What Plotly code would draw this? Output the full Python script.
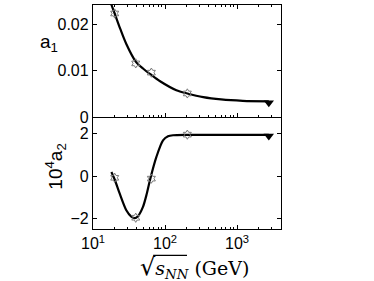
import plotly.graph_objects as go

# ---- data ----
sqrt_s_pts = [20.0, 39.2, 64.6, 204.0]          # star markers (GeV)
a1_pts = [0.0224, 0.0116, 0.0096, 0.0051]
a2_pts = [-0.07, -1.95, -0.11, 1.96]              # in units of 1e-4

lhc_x = [2760.0]                                  # triangle marker
lhc_a1 = [0.0031]
lhc_a2 = [1.90]

# fitted curves
curve1_x = [18.0, 20.0, 24.0, 29.0, 39.2, 49.4, 64.6, 84.3, 143.6, 204.0, 339.0, 600.0, 1200.0, 2760.0]
curve1_y = [0.0243, 0.0224, 0.0190, 0.0158, 0.0120, 0.0105, 0.0091, 0.0078, 0.0058, 0.0051, 0.0043, 0.0038, 0.0035, 0.0034]

curve2_x = [18.0, 20.0, 23.5, 29.0, 34.0, 37.9, 42.0, 49.4, 56.0, 62.5, 75.9, 93.8, 110.0, 129.0, 204.0, 600.0, 2760.0]
curve2_y = [0.20, -0.15, -0.82, -1.60, -1.90, -1.97, -1.88, -1.44, -0.80, -0.11, 0.91, 1.69, 1.88, 1.93, 1.95, 1.95, 1.95]

x_tickvals = [10, 100, 1000]
x_ticktext = ["10<sup>1</sup>", "10<sup>2</sup>", "10<sup>3</sup>"]
y1_tickvals = [0, 0.01, 0.02]
y1_ticktext = ["0", "0.01", "0.02"]
y2_tickvals = [-2, 0, 2]
y2_ticktext = ["\u22122", "0", "2"]

LINE = "black"
STAR = "#7a7a7a"
TICKFONT = dict(family="Liberation Sans, Arial, sans-serif", size=16, color="black")

fig = go.Figure()

# top panel
fig.add_trace(go.Scatter(x=curve1_x, y=curve1_y, mode="lines", line=dict(color=LINE, width=2.2, shape="spline", smoothing=0.8),
                         xaxis="x", yaxis="y", showlegend=False, hoverinfo="skip"))
fig.add_trace(go.Scatter(x=sqrt_s_pts, y=a1_pts, mode="markers",
                         marker=dict(symbol="hexagram-open", size=7, color=STAR, line=dict(width=1, color=STAR)),
                         xaxis="x", yaxis="y", showlegend=False, cliponaxis=False))
fig.add_trace(go.Scatter(x=lhc_x, y=lhc_a1, mode="markers",
                         marker=dict(symbol="triangle-down", size=9, color="black"),
                         xaxis="x", yaxis="y", showlegend=False))

# bottom panel
fig.add_trace(go.Scatter(x=curve2_x, y=curve2_y, mode="lines", line=dict(color=LINE, width=2.2, shape="spline", smoothing=0.8),
                         xaxis="x2", yaxis="y2", showlegend=False, hoverinfo="skip"))
fig.add_trace(go.Scatter(x=sqrt_s_pts, y=a2_pts, mode="markers",
                         marker=dict(symbol="hexagram-open", size=7, color=STAR, line=dict(width=1, color=STAR)),
                         xaxis="x2", yaxis="y2", showlegend=False))
fig.add_trace(go.Scatter(x=lhc_x, y=lhc_a2, mode="markers",
                         marker=dict(symbol="triangle-down", size=9, color="black"),
                         xaxis="x2", yaxis="y2", showlegend=False))

xrange = [1.0, 3.61]
common_x = dict(type="log", range=xrange, showline=True, linecolor="black", linewidth=1.3,
                ticks="inside", ticklen=4, tickcolor="black", tickvals=x_tickvals, showgrid=False, zeroline=False,
                minor=dict(ticks="inside", ticklen=2, tickcolor="black", dtick="D1", showgrid=False))

fig.update_layout(
    width=374, height=281,
    margin=dict(l=93, r=93, t=5, b=52),
    paper_bgcolor="white", plot_bgcolor="white",
    xaxis=dict(**common_x, domain=[0, 1], anchor="y", mirror="allticks", showticklabels=False, ticktext=x_ticktext),
    xaxis2=dict(**common_x, domain=[0, 1], anchor="y2", mirror=False, matches="x", ticktext=x_ticktext,
                tickfont=TICKFONT),
    yaxis=dict(domain=[0.5, 1], range=[0, 0.02424], showline=True, linecolor="black", linewidth=1.3,
               mirror="allticks", ticks="inside", ticklen=4, tickcolor="black", tickvals=y1_tickvals,
               ticktext=y1_ticktext, tickfont=TICKFONT, showgrid=False, zeroline=False, anchor="x"),
    yaxis2=dict(domain=[0, 0.5], range=[-2.48, 2.79], showline=True, linecolor="black", linewidth=1.3,
                mirror="allticks", ticks="inside", ticklen=4, tickcolor="black", tickvals=y2_tickvals,
                ticktext=y2_ticktext, tickfont=TICKFONT, showgrid=False, zeroline=False, anchor="x2"),
    annotations=[
        dict(text="a<sub>1</sub>", xref="paper", yref="paper", x=-0.235, y=0.83, xanchor="center", yanchor="middle",
             showarrow=False, font=dict(family="Liberation Sans, Arial, sans-serif", size=19, color="black")),
        dict(text="10<sup>4</sup>a<sub>2</sub>", xref="paper", yref="paper", x=-0.2, y=0.28, xanchor="center",
             yanchor="middle", textangle=-90, showarrow=False,
             font=dict(family="Liberation Sans, Arial, sans-serif", size=19, color="black")),
        dict(text="<span style='font-size:24px'>\u221a</span><i>s</i><sub><i>NN</i></sub> (GeV)",
             xref="paper", yref="paper", x=0.54, y=-0.174, xanchor="center", yanchor="middle", showarrow=False,
             font=dict(family="DejaVu Serif, serif", size=19, color="black")),
    ],
    shapes=[
        dict(type="line", xref="paper", yref="paper", x0=0.32, x1=0.5, y0=-0.118, y1=-0.118,
             line=dict(color="black", width=1.2)),
    ],
)

fig.write_html("out.html", config={"displayModeBar": False},
               post_script="document.body.style.margin='0';document.body.style.padding='0';")
